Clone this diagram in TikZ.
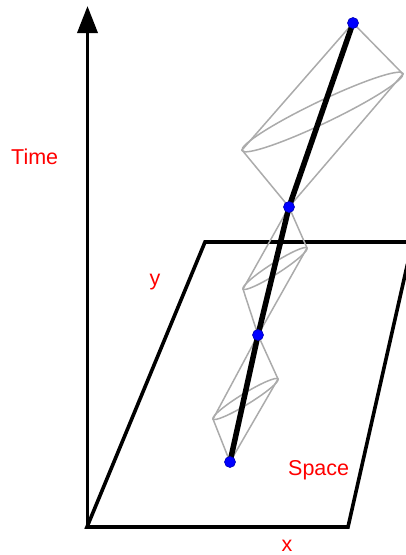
\documentclass[tikz,border=0pt]{standalone}
\usepackage{fontspec}
\setmainfont{Liberation Sans}
\usetikzlibrary{arrows.meta}
\begin{document}
\begin{tikzpicture}[x=1pt,y=-1pt,
  frame/.style={line width=3.6pt,black},
  conel/.style={draw=black!33,line width=1.5pt},
  wline/.style={line width=5.5pt,black},
  event/.style={circle,fill=blue,draw=blue!70!black,line width=0.6pt,inner sep=0pt,minimum size=11pt},
  lab/.style={text=red,font=\fontsize{21.5}{26}\selectfont,inner sep=0pt}]
\useasboundingbox (0,0) rectangle (406,555);
% plane
\coordinate (p1) at (412,242);
\coordinate (p2) at (205,242);
\coordinate (p3) at (87,527);
\coordinate (p4) at (348,527);
\coordinate (p5) at (407.5,264);
\draw[frame,line join=miter] (p1) -- (p2) -- (p3) -- (p4) -- (p5);
% time axis
\coordinate (a0) at (87.5,527);
\coordinate (a1) at (87.5,6);
\draw[frame,-{Triangle[length=27pt,width=20pt]}] (a0) -- (a1);
% events
\coordinate (e1) at (230,462);
\coordinate (e2) at (258,335);
\coordinate (e3) at (289,207);
\coordinate (e4) at (353,23);
% cone vertices
\coordinate (l1) at (213,419);
\coordinate (r1) at (278,379);
\coordinate (l2) at (243,289);
\coordinate (r2) at (307,248);
\coordinate (l3) at (242,150);
\coordinate (r3) at (403,74);
% cones
\draw[conel] (e1) -- (l1) -- (e2) -- (r1) -- cycle;
\draw[conel] (e2) -- (l2) -- (e3) -- (r2) -- cycle;
\draw[conel] (e3) -- (l3) -- (e4) -- (r3) -- cycle;
\draw[conel,shift={(245.5,399)},rotate=31.6] (0,0) ellipse [x radius=38.2pt,y radius=5.5pt];
\draw[conel,shift={(275,268.5)},rotate=32.6] (0,0) ellipse [x radius=38pt,y radius=5.5pt];
\draw[conel,shift={(322.5,112)},rotate=25.6] (0,0) ellipse [x radius=89.2pt,y radius=11pt];
% world line
\draw[wline,line join=round,line cap=round] (e1) -- (e2) -- (e3) -- (e4);
\foreach \e in {e1,e2,e3,e4} \node[event] (n\e) at (\e) {};
% labels
\node[lab,anchor=base west] (tl) at (11,164) {Time};
\node[lab,anchor=base] (yl) at (155,285) {y};
\node[lab,anchor=base west] (sl) at (288,475) {Space};
\node[lab,anchor=base] (xl) at (287,551) {x};
\end{tikzpicture}
\end{document}
